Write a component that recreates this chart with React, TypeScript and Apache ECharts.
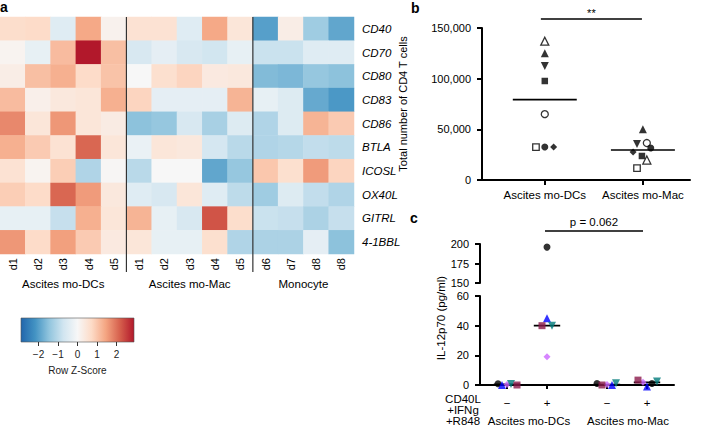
import React, { useEffect, useRef } from "react";
import * as echarts from "echarts";

// ---------------- data ----------------
const GENES = ["CD40", "CD70", "CD80", "CD83", "CD86", "BTLA", "ICOSL", "OX40L", "GITRL", "4-1BBL"];
const COLUMN_LABELS = ["d1", "d2", "d3", "d4", "d5", "d1", "d2", "d3", "d4", "d5", "d6", "d7", "d8", "d8"];
const GROUP_NAMES = ["Ascites mo-DCs", "Ascites mo-Mac", "Monocyte"];
const GROUP_SIZES = [5, 5, 4];

// row z-scores, columns: mo-DC d1..d5, mo-Mac d1..d5, Monocyte d6, d7, d8, d8
const Z_CD40 = [0.65, 0.7, -0.45, 1.4, 0.15, 0.55, 0.55, -0.45, 1.4, 0.45, -2.0, 0.25, -1.3, -1.9];
const Z_CD70 = [0.1, -0.3, 1.15, 2.9, 1.1, -0.6, -0.35, -0.6, -0.7, -0.3, -0.8, -0.8, -0.45, -0.45];
const Z_CD80 = [0.25, 1.1, 1.3, 0.7, 1.05, 0.0, 0.6, 0.8, 0.35, 0.4, -1.6, -1.65, -1.4, -1.5];
const Z_CD83 = [1.15, 0.2, 0.4, 0.45, 1.3, 0.8, -0.35, -0.35, -0.35, 1.25, -0.3, -0.5, -1.85, -2.1];
const Z_CD86 = [1.75, 0.45, 1.6, 0.45, 0.3, -1.5, -1.4, -0.6, -1.2, -0.5, -1.1, -0.5, 1.25, 0.95];
const Z_BTLA = [1.3, 0.95, 0.55, 2.1, 0.45, -0.25, 0.45, 0.4, -0.65, -1.0, -1.1, -1.05, -0.9, -0.95];
const Z_ICOSL = [0.55, 0.1, 0.9, -1.1, 0.05, -1.0, 0.0, 0.0, -1.9, -1.4, 1.0, 0.6, 1.55, 0.8];
const Z_OX40L = [0.9, 0.7, 2.1, 1.55, 0.4, -0.45, -0.6, 0.45, -0.45, -0.95, -1.3, -0.5, -0.9, -1.1];
const Z_GITRL = [-0.3, -0.3, -0.85, 1.3, 0.45, 1.25, -0.3, -0.6, 2.3, 0.65, -0.8, -0.85, -1.15, -0.85];
const Z_41BBL = [1.6, 0.7, 1.5, 0.95, 0.35, 0.45, -0.3, -0.3, 0.6, -1.1, -1.15, -1.15, -0.35, -1.5];
const Z_ROWS = [Z_CD40, Z_CD70, Z_CD80, Z_CD83, Z_CD86, Z_BTLA, Z_ICOSL, Z_OX40L, Z_GITRL, Z_41BBL];
const Z_TICKS = [-2, -1, 0, 1, 2];
const Z_MIN = -2.9;
const Z_MAX = 2.9;

// panel b: total number of CD4 T cells, one value per donor
const B_CATEGORIES = ["Ascites mo-DCs", "Ascites mo-Mac"];
const B_DC_COUNTS = [137000, 125000, 112500, 97700, 65000, 32500, 32500, 32500];
const B_MAC_COUNTS = [19700, 50000, 35500, 23700, 36500, 11800, 31600, 27600];
const B_TICKS = [0, 50000, 100000, 150000];
const B_SIGNIF = "**";

// panel c: IL-12p70 (pg/ml); order: DC −, DC +, Mac −, Mac +
const C_GROUPS = ["Ascites mo-DCs", "Ascites mo-Mac"];
const C_CONDITIONS = ["\u2212", "+", "\u2212", "+"];
const C_TREATMENT = ["CD40L", "+IFNg", "+R848"];
const C_DONOR_1 = [0.8, 196, 1, 1];
const C_DONOR_2 = [0, 45, 0, -1];
const C_DONOR_3 = [0.4, 19, 0.3, 1.8];
const C_DONOR_4 = [0.6, 40, 1.2, 2.3];
const C_DONOR_5 = [0, 40, 0, 3.3];
const C_UPPER_TICKS = [150, 175, 200];
const C_LOWER_TICKS = [0, 20, 40, 60];
const C_PVALUE = "p = 0.062";

// ---------------- layout / style ----------------
const FONT = "'Liberation Sans', Arial, Helvetica, sans-serif";
const RDBU = ["#2166AC", "#4393C3", "#92C5DE", "#D1E5F0", "#F7F7F7", "#FDDBC7", "#F4A582", "#D6604D", "#B2182B"];
const HM = { left: 0, top: 17, width: 354, height: 237 };
const CB = { left: 21, top: 318, width: 113, height: 24 };
const GB = { left: 482, top: 28, width: 208, height: 152 };
const B_XR = [-0.64, 1.48];
const GCU = { left: 480, top: 244, width: 194, height: 39 };
const GCL = { left: 480, top: 296, width: 194, height: 89 };
const C_XR = [-0.675, 4.175];
const C_POS = [0, 1, 2.5, 3.5];

const B_JIT_DC = [0, 0, 0, 0, 0, -0.09, 0, 0.09];
const B_JIT_MAC = [0.04, 0, -0.06, -0.01, 0.04, -0.06, 0.08, -0.1];
const B_SHAPES = [
  { symbol: "triangle", rotate: 0, open: true, size: 8 },
  { symbol: "triangle", rotate: 0, open: false, size: 8 },
  { symbol: "triangle", rotate: 180, open: false, size: 8 },
  { symbol: "rect", rotate: 0, open: false, size: 6.5 },
  { symbol: "circle", rotate: 0, open: true, size: 7 },
  { symbol: "rect", rotate: 0, open: true, size: 6.5 },
  { symbol: "circle", rotate: 0, open: false, size: 7 },
  { symbol: "diamond", rotate: 0, open: false, size: 7 },
];
const C_SHAPES = [
  { symbol: "circle", rotate: 0, color: "#000000", size: 7 },
  { symbol: "triangle", rotate: 0, color: "#0000FF", size: 8 },
  { symbol: "diamond", rotate: 0, color: "#CC66FF", size: 7 },
  { symbol: "triangle", rotate: 180, color: "#007B7B", size: 8 },
  { symbol: "rect", rotate: 0, color: "#8B1A4B", size: 7 },
];
const C_JIT = [
  [-0.225, 0, -0.25, 0.125],
  [-0.125, 0, 0.125, 0],
  [0, 0, 0, -0.1],
  [0.1, 0.125, 0.225, 0.25],
  [0.25, -0.125, -0.125, -0.225],
];

const mean = (a: number[]) => a.reduce((s, v) => s + v, 0) / a.length;
const median = (a: number[]) => {
  const s = [...a].sort((x, y) => x - y);
  const m = Math.floor(s.length / 2);
  return s.length % 2 ? s[m] : (s[m - 1] + s[m]) / 2;
};
const bX = (v: number) => GB.left + ((v - B_XR[0]) / (B_XR[1] - B_XR[0])) * GB.width;
const cX = (v: number) => GCL.left + ((v - C_XR[0]) / (C_XR[1] - C_XR[0])) * GCL.width;
const minus = (v: number) => (v < 0 ? "\u2212" + Math.abs(v) : String(v));

const AXLINE = { show: true, onZero: false, lineStyle: { color: "#000", width: 2 } };
const AXTICK = { show: true, length: 5, lineStyle: { color: "#000", width: 2 } };

function buildOption() {
  const nCols = COLUMN_LABELS.length;
  const cellW = HM.width / nCols;
  const heatData: number[][] = [];
  Z_ROWS.forEach((row, r) => row.forEach((z, c) => heatData.push([c, r, z])));

  const series: any[] = [];
  series.push({
    type: "heatmap",
    xAxisIndex: 0,
    yAxisIndex: 0,
    data: heatData,
    itemStyle: { borderWidth: 0 },
    emphasis: { disabled: true },
    silent: true,
  });
  series.push({ type: "scatter", xAxisIndex: 1, yAxisIndex: 1, data: [], silent: true });

  // panel b
  B_SHAPES.forEach((s, i) => {
    series.push({
      type: "scatter",
      xAxisIndex: 2,
      yAxisIndex: 2,
      symbol: s.symbol,
      symbolRotate: s.rotate,
      symbolSize: s.size,
      itemStyle: s.open ? { color: "#fff", borderColor: "#000", borderWidth: 1.3 } : { color: "#000" },
      data: [
        [0 + B_JIT_DC[i], B_DC_COUNTS[i]],
        [1 + B_JIT_MAC[i], B_MAC_COUNTS[i]],
      ],
      z: 3,
      silent: true,
    });
  });
  [B_DC_COUNTS, B_MAC_COUNTS].forEach((arr, k) => {
    const m = mean(arr);
    series.push({
      type: "line",
      xAxisIndex: 2,
      yAxisIndex: 2,
      data: [
        [k - 0.326, m],
        [k + 0.326, m],
      ],
      symbol: "none",
      lineStyle: { color: "#000", width: 1.6 },
      z: 2,
      silent: true,
    });
  });

  // panel c
  const C_DONORS = [C_DONOR_1, C_DONOR_2, C_DONOR_3, C_DONOR_4, C_DONOR_5];
  C_DONORS.forEach((vals, i) => {
    const s = C_SHAPES[i];
    const lower: number[][] = [];
    const upper: number[][] = [];
    vals.forEach((v, k) => {
      const pt = [C_POS[k] + C_JIT[i][k], v];
      if (v >= 150) upper.push(pt);
      else lower.push(pt);
    });
    const base = {
      type: "scatter",
      symbol: s.symbol,
      symbolRotate: s.rotate,
      symbolSize: s.size,
      itemStyle: { color: s.color },
      z: 3,
      silent: true,
      clip: false,
    };
    series.push({ ...base, xAxisIndex: 4, yAxisIndex: 4, data: lower });
    series.push({ ...base, xAxisIndex: 3, yAxisIndex: 3, data: upper });
  });
  C_POS.forEach((p, k) => {
    const med = median(C_DONORS.map((d) => d[k]));
    series.push({
      type: "line",
      xAxisIndex: 4,
      yAxisIndex: 4,
      data: [
        [p - 0.33, med],
        [p + 0.33, med],
      ],
      symbol: "none",
      lineStyle: { color: "#000", width: 1.6 },
      z: 2,
      silent: true,
    });
  });

  // graphics
  const graphic: any[] = [];
  const txt = (text: string, x: number, y: number, extra: any = {}, rot = 0) => ({
    type: "text",
    x,
    y,
    rotation: rot,
    silent: true,
    style: {
      text,
      fontFamily: FONT,
      fontSize: 11.5,
      fill: "#000",
      align: "center",
      verticalAlign: "middle",
      ...extra,
    },
  });
  graphic.push(txt("a", 0, 7, { fontSize: 14, fontWeight: "bold", align: "left" }));
  graphic.push(txt("b", 411, 8, { fontSize: 14, fontWeight: "bold", align: "left" }));
  graphic.push(txt("c", 410, 218, { fontSize: 14, fontWeight: "bold", align: "left" }));

  let start = 0;
  GROUP_SIZES.forEach((n, g) => {
    const cx = HM.left + (start + n / 2) * cellW;
    graphic.push(txt(GROUP_NAMES[g], cx, 284));
    start += n;
    if (g < GROUP_SIZES.length - 1) {
      const x = HM.left + start * cellW;
      graphic.push({
        type: "line",
        silent: true,
        z: 10,
        shape: { x1: x, y1: HM.top, x2: x, y2: 272 },
        style: { stroke: "#333", lineWidth: 1.2 },
      });
    }
  });

  graphic.push({
    type: "rect",
    silent: true,
    shape: { x: CB.left, y: CB.top, width: CB.width, height: CB.height },
    style: {
      fill: new echarts.graphic.LinearGradient(
        0,
        0,
        1,
        0,
        RDBU.map((c, i) => ({ offset: i / (RDBU.length - 1), color: c }))
      ),
      stroke: "#555",
      lineWidth: 0.6,
    },
  });

  graphic.push({
    type: "line",
    silent: true,
    shape: { x1: bX(-0.04), y1: 19, x2: bX(0.99), y2: 19 },
    style: { stroke: "#000", lineWidth: 1.3 },
  });
  graphic.push(txt(B_SIGNIF, (bX(-0.04) + bX(0.99)) / 2, 13, { fontSize: 11 }));

  graphic.push({
    type: "line",
    silent: true,
    shape: { x1: cX(0.95), y1: 231, x2: cX(3.4), y2: 231 },
    style: { stroke: "#000", lineWidth: 1.3 },
  });
  graphic.push(txt(C_PVALUE, (cX(0.95) + cX(3.4)) / 2, 222, { fontSize: 11.5 }));

  graphic.push(txt("IL-12p70 (pg/ml)", 441, 318, { fontSize: 11.5 }, Math.PI / 2));
  C_TREATMENT.forEach((t, i) => graphic.push(txt(t, 463, 399 + i * 11, { fontSize: 11.5 })));
  graphic.push(txt(C_GROUPS[0], (cX(C_POS[0]) + cX(C_POS[1])) / 2 + 2, 421));
  graphic.push(txt(C_GROUPS[1], (cX(C_POS[2]) + cX(C_POS[3])) / 2 + 1, 421));

  return {
    animation: false,
    textStyle: { fontFamily: FONT, color: "#000" },
    grid: [
      { ...HM, containLabel: false },
      { ...CB, containLabel: false },
      { ...GB, containLabel: false },
      { ...GCU, containLabel: false },
      { ...GCL, containLabel: false },
    ],
    visualMap: {
      type: "continuous",
      show: false,
      min: Z_MIN,
      max: Z_MAX,
      seriesIndex: 0,
      dimension: 2,
      inRange: { color: RDBU },
    },
    xAxis: [
      {
        gridIndex: 0,
        type: "category",
        data: COLUMN_LABELS.map((_, i) => "c" + i),
        axisLine: { show: false },
        axisTick: { show: false },
        splitLine: { show: false },
        axisLabel: {
          rotate: 90,
          margin: 4,
          fontSize: 11,
          color: "#000",
          interval: 0,
          formatter: (_v: string, idx: number) => COLUMN_LABELS[idx],
        },
      },
      {
        gridIndex: 1,
        type: "value",
        min: Z_MIN,
        max: Z_MAX,
        axisLine: { show: false, onZero: false },
        splitLine: { show: false },
        axisTick: { show: true, customValues: Z_TICKS, length: 4, lineStyle: { color: "#333", width: 1 } },
        axisLabel: { customValues: Z_TICKS, formatter: (v: number) => minus(v), fontSize: 10, margin: 7, color: "#222" },
        name: "Row Z-Score",
        nameLocation: "middle",
        nameGap: 23,
        nameTextStyle: { fontSize: 10, color: "#222" },
      },
      {
        gridIndex: 2,
        type: "value",
        min: B_XR[0],
        max: B_XR[1],
        axisLine: AXLINE,
        splitLine: { show: false },
        axisTick: { ...AXTICK, customValues: [0, 1] },
        axisLabel: {
          customValues: [0, 1],
          formatter: (v: number) => B_CATEGORIES[Math.round(v)],
          fontSize: 11.5,
          margin: 9,
          color: "#000",
        },
      },
      {
        gridIndex: 3,
        type: "value",
        min: C_XR[0],
        max: C_XR[1],
        show: false,
      },
      {
        gridIndex: 4,
        type: "value",
        min: C_XR[0],
        max: C_XR[1],
        axisLine: AXLINE,
        splitLine: { show: false },
        axisTick: { ...AXTICK, length: 4, customValues: C_POS },
        axisLabel: {
          customValues: C_POS,
          formatter: (v: number) => C_CONDITIONS[C_POS.indexOf(v)],
          fontSize: 11.5,
          margin: 12,
          color: "#000",
        },
      },
    ],
    yAxis: [
      {
        gridIndex: 0,
        type: "category",
        inverse: true,
        position: "right",
        data: GENES,
        axisLine: { show: false },
        axisTick: { show: false },
        splitLine: { show: false },
        axisLabel: { fontStyle: "italic", fontSize: 11.5, margin: 8, color: "#000", interval: 0 },
      },
      { gridIndex: 1, type: "value", min: 0, max: 1, show: false },
      {
        gridIndex: 2,
        type: "value",
        position: "left",
        min: B_TICKS[0],
        max: B_TICKS[B_TICKS.length - 1],
        interval: B_TICKS[1] - B_TICKS[0],
        axisLine: AXLINE,
        axisTick: AXTICK,
        splitLine: { show: false },
        axisLabel: {
          fontSize: 11,
          margin: 11,
          color: "#000",
          formatter: (v: number) => v.toLocaleString("en-US"),
        },
        name: "Total number of CD4 T cells",
        nameLocation: "middle",
        nameGap: 74,
        nameTextStyle: { fontSize: 11, color: "#000" },
      },
      {
        gridIndex: 3,
        type: "value",
        position: "left",
        min: C_UPPER_TICKS[0],
        max: C_UPPER_TICKS[C_UPPER_TICKS.length - 1],
        interval: C_UPPER_TICKS[1] - C_UPPER_TICKS[0],
        axisLine: AXLINE,
        axisTick: AXTICK,
        splitLine: { show: false },
        axisLabel: { fontSize: 11, margin: 11, color: "#000" },
      },
      {
        gridIndex: 4,
        type: "value",
        position: "left",
        min: C_LOWER_TICKS[0],
        max: C_LOWER_TICKS[C_LOWER_TICKS.length - 1],
        interval: C_LOWER_TICKS[1] - C_LOWER_TICKS[0],
        axisLine: AXLINE,
        axisTick: AXTICK,
        splitLine: { show: false },
        axisLabel: { fontSize: 11, margin: 11, color: "#000" },
      },
    ],
    series,
    graphic,
  };
}

export default function App() {
  const ref = useRef<HTMLDivElement>(null);
  useEffect(() => {
    if (!ref.current) return;
    const chart = echarts.init(ref.current, undefined, { renderer: "svg" });
    chart.setOption(buildOption() as any);
    return () => chart.dispose();
  }, []);
  return (
    <div
      ref={ref}
      style={{ position: "absolute", left: 0, top: 0, width: 707, height: 426, background: "#fff" }}
    />
  );
}
